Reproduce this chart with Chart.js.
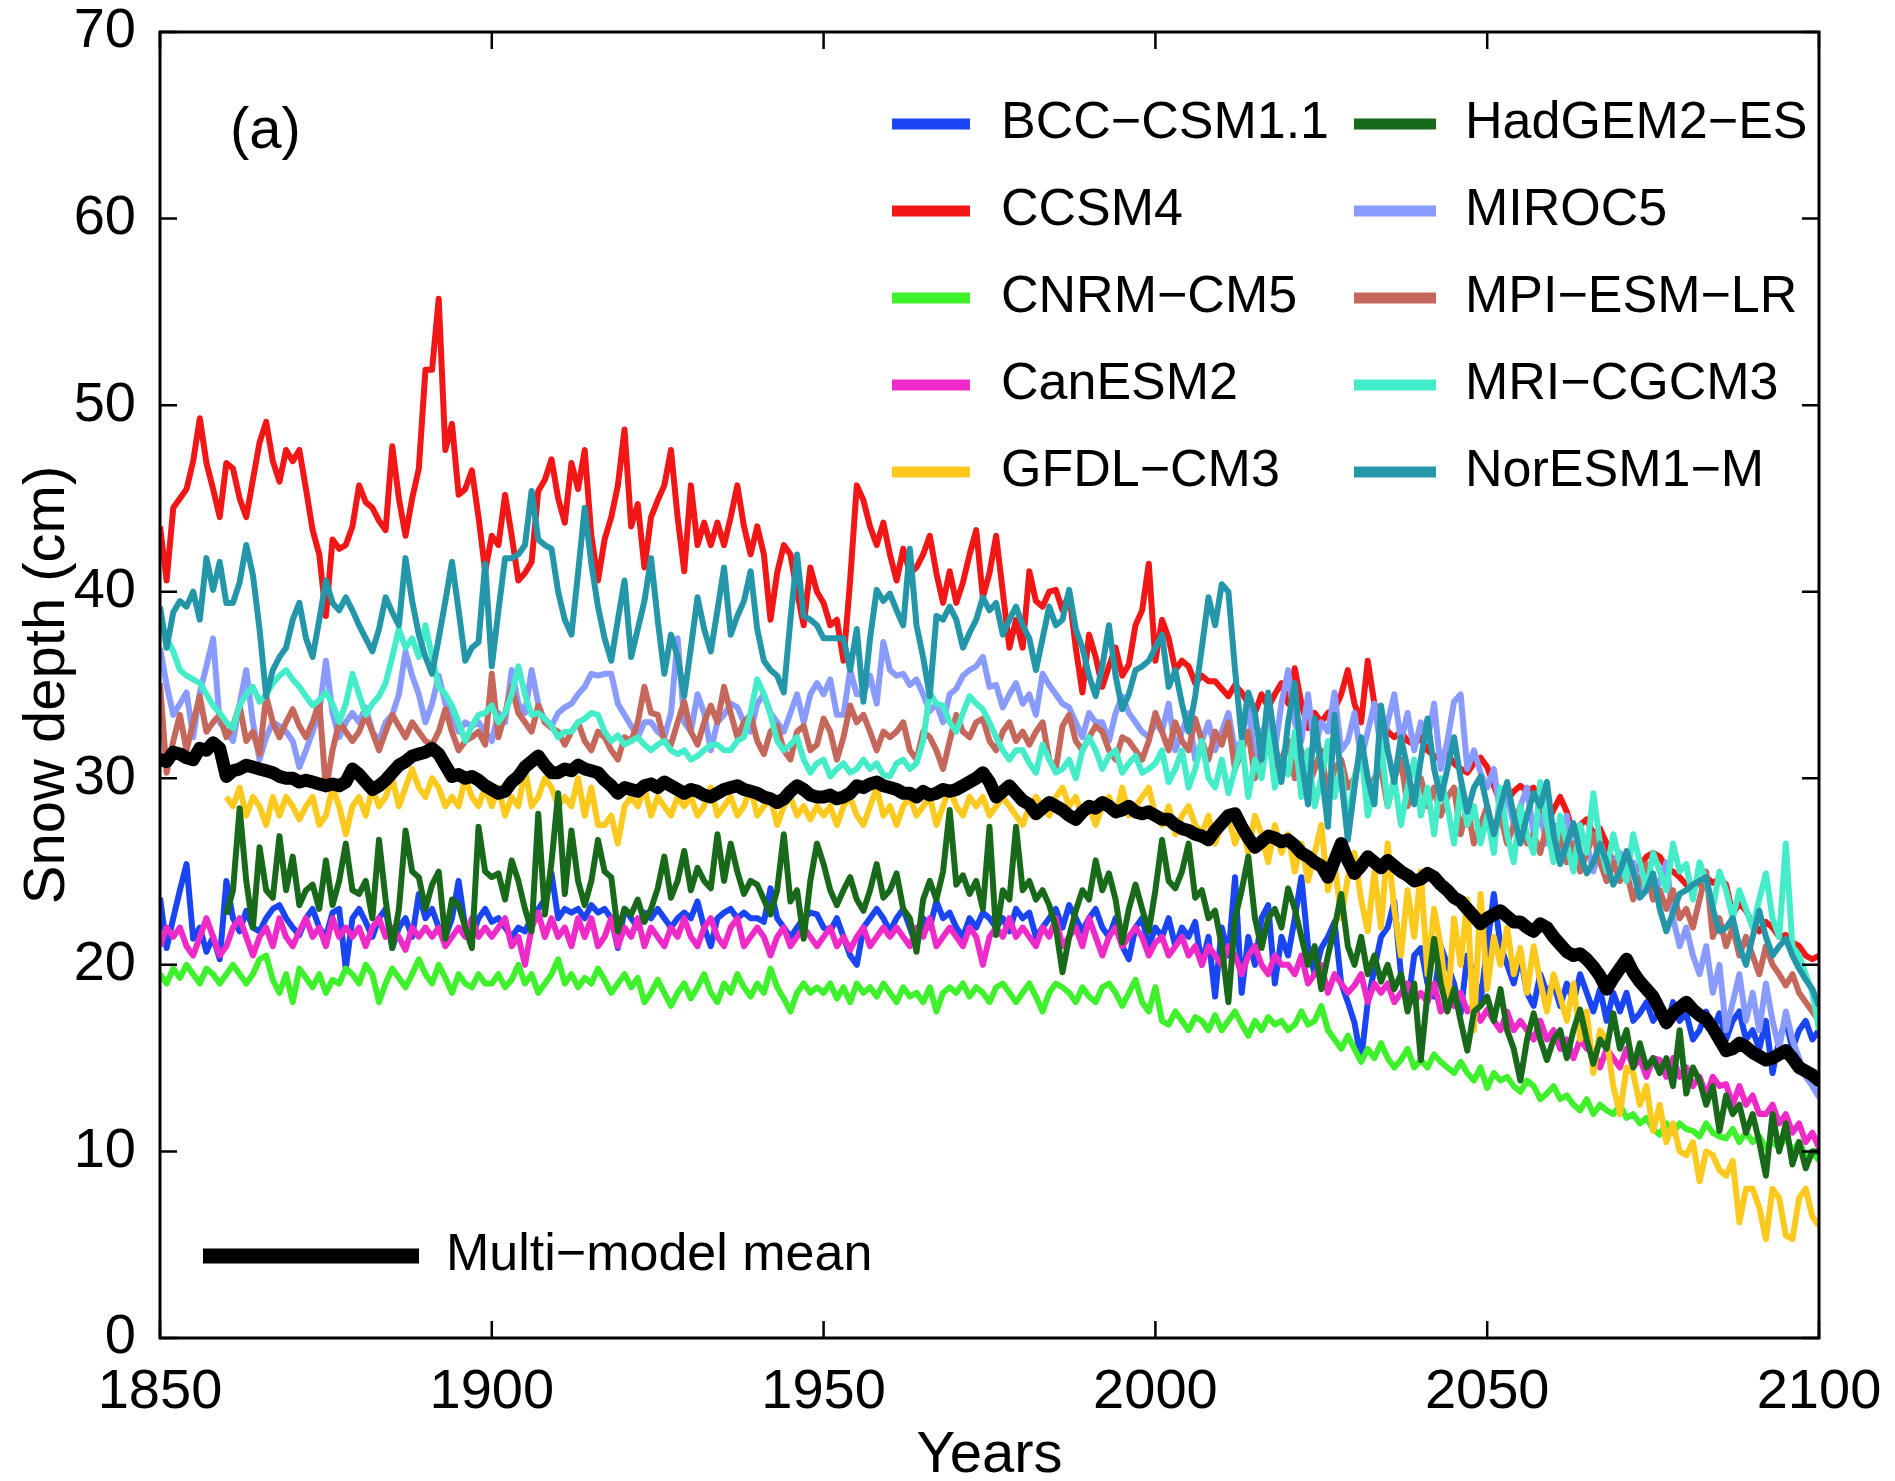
<!DOCTYPE html>
<html>
<head>
<meta charset="utf-8">
<title>Snow depth (a)</title>
<script src="https://cdn.jsdelivr.net/npm/chart.js@4.4.1/dist/chart.umd.min.js"></script>
<style>
  html, body { margin: 0; padding: 0; background: #fff; }
  #wrap { width: 1895px; height: 1481px; }
</style>
</head>
<body>
<div id="wrap"><canvas id="snowChart" width="1895" height="1481"></canvas></div>
<script>
// annual values 1850..2100 (cm)
const years = [];
for (let yr = 1850; yr <= 2100; yr++) years.push(yr);

const xTicks = [1850, 1900, 1950, 2000, 2050, 2100];
const yTicks = [0, 10, 20, 30, 40, 50, 60, 70];

const bccCsm11 = [
  23.6, 20.9, 22.5, 24.0, 25.4, 21.4, 22.0, 20.7, 21.5, 20.3,
  24.5, 22.5, 21.8, 22.9, 22.0, 21.8, 22.5, 23.0, 23.2, 22.5,
  22.0, 21.6, 22.5, 23.0, 22.0, 21.5, 22.8, 23.0, 19.8, 22.5,
  23.0, 22.3, 21.5, 22.5, 23.0, 20.9, 22.0, 22.5, 21.5, 23.8,
  22.5, 23.0, 22.0, 21.5, 22.5, 24.5, 22.0, 21.5, 22.5, 23.0,
  22.3, 22.5, 22.0, 21.5, 22.0, 21.8, 22.5, 23.0, 23.5, 24.9,
  22.5, 23.0, 22.8, 23.0, 22.5, 23.2, 22.8, 23.0, 22.5, 20.9,
  23.0, 22.5, 22.0, 22.8, 22.5, 23.0, 22.5, 22.0, 22.5, 22.8,
  22.5, 23.4, 22.0, 21.0, 22.5, 22.8, 23.0, 22.5, 22.8, 22.5,
  22.5, 22.3, 24.1, 22.5, 22.0, 21.5, 22.0, 22.5, 22.8, 22.7,
  22.0, 21.8, 22.5, 21.5, 20.5, 20.0, 22.0, 22.5, 23.0, 22.5,
  21.8, 22.5, 23.0, 22.0, 21.0, 22.5, 22.0, 23.4, 22.5, 22.8,
  22.0, 21.5, 22.5, 22.0, 22.8, 22.5, 22.0, 22.5, 21.8, 23.0,
  22.5, 22.8, 21.5, 22.0, 22.5, 23.0, 22.0, 23.2, 22.5, 21.8,
  22.5, 23.0, 22.0, 21.5, 22.5, 21.0, 20.3, 22.0, 22.5, 21.0,
  22.0, 21.5, 22.5, 21.0, 22.0, 21.5, 22.3, 20.0, 21.5, 18.3,
  22.0, 20.5, 24.7, 18.5, 21.5, 20.0, 22.5, 23.2, 19.0, 21.5,
  20.5, 22.5, 24.7, 21.0, 19.5, 20.9, 21.5, 22.3, 19.0, 18.0,
  16.9, 14.9, 18.0, 19.8, 21.5, 22.0, 23.4, 19.5, 17.8, 20.5,
  20.9, 19.0, 18.3, 21.0, 20.0, 19.0, 17.4, 20.5, 19.5, 18.0,
  21.0, 23.8, 21.0, 20.0, 19.0, 20.5, 18.5, 17.8, 19.5, 18.5,
  19.0, 17.8, 19.0, 18.0, 19.5, 18.5, 17.5, 18.7, 17.0, 18.5,
  17.5, 18.5, 17.0, 17.4, 18.0, 17.0, 17.5, 16.7, 18.0, 17.0,
  17.4, 16.0, 16.5, 17.5, 16.5, 17.4, 16.0, 17.0, 17.5, 16.0,
  16.5, 15.5, 17.0, 14.2, 16.0, 17.0, 15.5, 16.5, 17.0, 16.0,
  16.5
];

const ccsm4 = [
  43.5, 40.6, 44.5, 45.0, 45.5, 47.0, 49.3, 46.9, 45.5, 44.0,
  46.9, 46.6, 45.0, 44.0, 46.0, 48.0, 49.1, 47.0, 45.9, 47.6,
  47.0, 47.6, 45.5, 43.3, 42.0, 38.7, 42.8, 42.3, 42.5, 43.5,
  45.7, 44.8, 44.5, 43.8, 43.3, 47.8, 45.0, 43.0, 45.0, 46.6,
  51.9, 51.9, 55.7, 47.6, 49.0, 45.2, 45.5, 46.5, 44.0, 41.1,
  43.0, 42.5, 45.2, 43.0, 40.6, 41.0, 41.6, 45.4, 46.0, 47.1,
  45.0, 43.7, 46.9, 45.5, 47.6, 43.0, 40.6, 42.8, 44.0, 45.7,
  48.7, 43.5, 44.7, 41.3, 44.0, 44.9, 45.7, 47.6, 44.0, 41.1,
  45.7, 42.5, 43.7, 42.5, 43.7, 42.5, 44.0, 45.7, 43.5, 42.0,
  43.5, 42.0, 38.5, 41.0, 42.5, 42.0, 40.0, 38.2, 41.3, 40.0,
  39.4, 38.2, 38.5, 36.3, 40.6, 45.7, 44.9, 43.5, 42.5, 43.7,
  42.0, 40.6, 42.3, 41.0, 41.3, 42.0, 43.0, 41.0, 39.4, 41.1,
  39.4, 40.5, 42.0, 43.3, 39.7, 41.0, 43.0, 40.0, 37.0, 38.5,
  37.0, 41.1, 39.5, 39.2, 40.0, 40.1, 39.0, 39.9, 37.0, 34.6,
  37.7, 36.5, 34.9, 36.0, 37.0, 35.5, 36.1, 38.2, 39.0, 41.5,
  36.3, 38.5, 37.5, 35.8, 36.3, 36.0, 35.1, 35.5, 35.2, 35.2,
  34.8, 34.4, 35.0, 34.6, 34.0, 33.5, 34.5, 33.8, 34.5, 35.1,
  34.0, 35.9, 34.0, 32.7, 33.5, 33.0, 33.5, 33.7, 34.5, 35.8,
  34.0, 33.0, 36.3, 34.0, 33.4, 32.5, 32.2, 32.5, 32.0, 31.8,
  32.2, 31.5, 31.2, 31.0, 31.3, 30.8, 30.5, 30.3, 30.8, 31.1,
  30.6, 29.6, 28.7, 28.8, 29.3, 29.6, 29.3, 29.5, 28.5, 27.6,
  28.3, 29.0, 28.2, 27.0, 27.5, 27.8, 27.0, 27.3, 26.5, 25.4,
  25.8, 25.5, 24.9, 25.3, 25.8, 26.0, 25.8, 25.2, 25.0, 24.7,
  24.3, 24.0, 24.5, 24.7, 24.4, 24.6, 24.3, 22.7, 23.3, 22.9,
  22.2, 21.8, 22.3, 22.0, 21.5, 21.6, 21.2, 21.0, 20.5, 20.3,
  20.5
];

const cnrmCm5 = [
  19.5, 19.0, 19.8, 19.3, 20.0, 19.5, 19.0, 19.8, 19.5, 19.0,
  19.5, 20.0, 19.5, 19.0, 19.5, 20.3, 20.5, 19.2, 18.5, 19.5,
  18.0, 19.8, 19.3, 18.8, 19.5, 18.5, 19.2, 19.0, 19.8, 19.5,
  19.0, 20.0, 19.5, 18.0, 19.0, 19.8, 19.3, 18.8, 19.5, 20.3,
  19.5, 19.0, 20.0, 19.3, 18.5, 19.5, 19.0, 18.8, 19.5, 19.0,
  19.0, 19.5, 18.8, 19.2, 20.0, 19.0, 19.5, 18.5, 19.0, 19.5,
  20.3, 19.0, 19.5, 18.8, 19.3, 19.0, 19.8, 19.2, 18.5, 19.0,
  19.5, 18.8, 19.3, 18.0, 18.5, 19.2, 18.5, 17.8, 18.5, 19.0,
  18.2, 18.8, 19.5, 18.5, 18.0, 19.0, 18.5, 19.5, 18.8, 18.3,
  19.0, 18.5, 19.8, 18.8, 18.2, 17.5, 18.5, 19.0, 18.5, 18.8,
  18.5, 19.0, 18.2, 18.8, 18.0, 19.0, 18.5, 18.8, 18.3, 19.0,
  18.5, 18.0, 18.8, 18.3, 18.5, 18.0, 18.8, 17.5, 18.5, 18.8,
  18.5, 19.0, 18.3, 18.8, 18.5, 18.0, 18.8, 19.0, 18.5, 18.0,
  18.5, 19.0, 18.3, 17.5, 18.5, 19.0, 18.8, 18.5, 18.0, 18.8,
  18.3, 18.0, 18.8, 19.0, 18.5, 17.8, 18.5, 19.2, 18.0, 17.5,
  18.8, 17.0, 16.8, 17.5, 17.0, 16.5, 17.2, 17.0, 16.5, 17.3,
  16.5, 17.0, 17.5, 16.8, 16.2, 17.0, 16.5, 17.2, 16.8, 17.0,
  16.5, 16.8, 17.5, 16.8, 17.0, 17.8, 16.5, 16.0, 15.5, 16.2,
  15.5, 14.8, 15.5, 15.0, 15.8, 15.0, 14.5, 14.9, 15.5, 14.5,
  14.9, 14.5, 15.2, 14.8, 14.5, 14.2, 14.8, 14.2, 13.8, 14.5,
  13.4, 14.2, 13.8, 14.0, 13.5, 13.2, 13.8, 13.5, 12.8, 13.1,
  13.5, 12.8, 13.0, 12.5, 12.2, 12.8, 12.0, 12.5, 12.2, 12.0,
  12.5, 11.8, 12.0, 11.5, 11.8, 11.2, 10.9, 11.5, 11.0, 11.5,
  11.2, 11.1, 10.8, 11.5, 11.0, 10.8, 10.7, 11.2, 10.5, 11.0,
  10.5, 10.8, 10.2, 10.5, 10.2, 10.8, 10.0, 10.5, 9.8, 10.0,
  9.5
];

const canEsm2 = [
  21.0, 22.0, 21.5, 22.0, 21.0, 20.5, 21.5, 22.5, 21.5, 20.5,
  21.0, 22.0, 22.5, 21.5, 20.5, 21.5, 22.0, 21.0, 22.5, 21.5,
  21.0, 21.8, 22.5, 21.5, 22.0, 21.0, 22.5, 21.5, 22.0, 21.5,
  22.0, 21.0, 22.0, 22.5, 21.5, 22.0, 21.5, 20.8, 22.0, 21.5,
  22.0, 21.5, 22.0, 21.0, 21.5, 22.0, 21.5, 22.5, 21.5, 22.0,
  21.5, 22.0, 22.5, 21.0, 21.5, 20.0, 22.0, 22.8, 21.5, 22.5,
  21.5, 22.0, 21.0, 22.5, 21.5, 22.5, 21.0, 21.5, 22.5, 21.0,
  22.0, 21.5, 22.5, 21.0, 22.0, 21.5, 21.0, 22.0, 21.5, 22.5,
  21.5, 21.0, 22.0, 22.5, 21.5, 21.0, 22.0, 22.5, 21.0, 21.5,
  22.0, 21.5, 20.5, 21.5, 22.0, 21.0, 21.5, 22.0, 21.5, 21.0,
  21.5, 22.0, 21.0, 21.5, 20.8, 21.5, 22.0, 21.0, 21.5, 22.0,
  21.5, 22.0, 21.5, 21.0, 22.0, 21.5, 22.5, 21.0, 21.5, 22.0,
  21.5, 21.0, 22.0, 21.5, 20.0, 21.5, 22.0, 21.5, 22.5, 21.5,
  22.0, 21.5, 21.0, 22.0, 21.5, 22.5, 21.0, 21.5, 22.0, 21.0,
  22.5, 21.5, 20.5, 21.5, 22.0, 21.0, 21.5, 22.0, 21.5, 20.5,
  21.2, 21.5, 20.5, 21.0, 21.5, 20.5, 21.0, 20.0, 21.0, 20.5,
  20.0, 21.0, 20.5, 19.5, 20.5, 21.0, 20.0, 19.5, 20.5, 20.0,
  20.0, 19.5, 20.5, 19.0, 19.5, 20.0, 18.5, 19.5, 19.0, 18.5,
  18.9, 19.5, 18.0, 19.0, 18.5, 19.0, 18.0, 18.5, 19.0, 18.0,
  18.5, 18.0, 19.0, 17.5, 18.0, 17.8, 18.5, 17.5, 17.8, 17.0,
  17.6, 17.0, 16.5, 17.5, 16.5, 17.0, 16.5, 16.0, 17.0, 16.0,
  16.5, 15.5, 16.0, 15.0, 16.0, 15.5, 15.4, 14.5, 15.5, 15.0,
  14.5, 15.5, 14.5, 15.0, 14.0, 15.0, 14.9, 14.0, 15.0, 14.0,
  14.5, 13.5, 14.0, 13.0, 14.0, 13.5, 13.6, 12.5, 13.5, 12.5,
  13.0, 12.0, 12.0, 12.5, 11.5, 12.0, 11.0, 11.5, 10.5, 11.0,
  10.2
];

const gfdlCm3 = [
  null, null, null, null, null, null, null, null, null, null,
  29.0, 28.5, 29.5, 28.0, 29.0, 28.5, 27.5, 29.0, 28.0, 29.0,
  28.5, 27.8, 28.5, 29.0, 27.5, 28.0, 29.5, 28.5, 27.0, 28.5,
  29.0, 28.0, 29.5, 28.5, 29.0, 30.0, 28.5, 29.5, 30.5, 29.5,
  29.0, 30.0, 29.5, 28.5, 29.0, 28.5, 30.0, 29.0, 28.5, 29.5,
  28.5, 29.5, 28.0, 29.0, 28.5, 30.5, 28.5, 29.0, 30.0, 29.5,
  28.5, 29.0, 28.5, 30.0, 28.0, 29.5, 27.5, 27.5, 28.0, 26.5,
  28.5, 29.0, 28.5, 29.5, 28.0, 29.0, 28.5, 28.0, 29.0, 28.5,
  29.0, 28.0, 28.5, 29.5, 28.0, 28.5, 29.0, 28.0, 28.5, 29.5,
  28.0, 28.5, 29.0, 27.5, 28.5, 29.0, 28.0, 28.5, 27.8, 28.5,
  28.0, 28.5, 27.5, 28.5, 29.0, 28.0, 27.5, 28.5, 29.5, 28.0,
  28.5, 27.5, 28.5, 29.0, 28.0, 28.5, 29.0, 27.5, 28.5, 29.5,
  28.5, 28.0, 29.0, 28.5, 29.0, 28.0, 28.5, 29.0, 28.5, 28.0,
  27.5, 28.5, 29.0, 28.5, 28.0, 29.0, 29.5, 28.5, 29.0, 28.0,
  28.5, 27.5, 28.5, 29.0, 28.0, 29.5, 28.0, 28.5, 29.0, 29.5,
  28.0, 27.5, 28.5, 27.0, 28.0, 28.5, 27.5, 27.0, 28.0, 26.5,
  27.5, 28.0, 26.5, 27.5, 26.0, 28.0, 27.0, 25.5, 27.5, 26.0,
  27.0, 25.0, 26.5, 24.5, 26.0, 27.5, 24.0, 25.5, 22.5, 24.7,
  26.0, 23.5, 21.8, 25.0, 22.0, 26.5, 23.0, 20.5, 24.0, 21.5,
  25.0, 19.5, 23.0, 21.0, 17.5, 22.5, 20.0, 23.5, 16.5, 23.8,
  18.7, 21.5, 20.0, 22.0, 19.5, 20.9, 18.5, 21.0, 19.1, 17.5,
  19.5, 18.3, 17.0, 19.0, 16.0, 17.5, 14.2, 16.5, 16.0, 13.5,
  12.0, 14.5, 14.2, 12.5, 13.5, 11.1, 12.5, 10.5, 11.5, 10.0,
  9.8, 10.5, 8.4, 10.0, 9.8, 9.0, 8.7, 9.5, 6.2, 8.0,
  8.0, 7.0, 5.3, 8.0, 7.5, 5.5, 5.3, 7.5, 8.0, 6.5,
  6.0
];

const hadGem2Es = [
  null, null, null, null, null, null, null, null, null, null,
  22.7, 24.0, 28.4, 24.5, 22.0, 26.3, 24.0, 23.6, 26.9, 24.0,
  25.8, 23.2, 24.0, 24.3, 23.0, 25.6, 23.2, 24.5, 26.5, 24.0,
  23.8, 24.5, 22.5, 26.7, 23.5, 20.9, 23.0, 27.2, 25.0, 24.7,
  23.0, 24.3, 25.0, 21.4, 23.5, 23.2, 22.0, 20.9, 27.4, 25.0,
  24.7, 24.9, 23.5, 25.6, 24.5, 23.0, 21.8, 28.1, 22.7, 25.5,
  29.2, 23.8, 27.2, 24.5, 23.2, 24.5, 26.7, 25.0, 24.7, 21.8,
  23.0, 22.7, 23.5, 22.3, 23.0, 24.1, 25.8, 23.6, 24.5, 26.1,
  24.0, 25.2, 24.5, 24.1, 27.0, 24.5, 26.5, 25.0, 23.8, 24.5,
  24.3, 23.5, 22.7, 24.0, 27.0, 23.4, 24.0, 21.4, 24.5, 26.5,
  25.4, 24.0, 23.2, 24.0, 24.7, 23.5, 22.9, 24.0, 25.4, 23.6,
  24.0, 24.9, 23.0, 22.5, 20.7, 23.5, 24.5, 23.5, 25.0, 28.3,
  24.3, 24.8, 23.8, 24.5, 23.0, 27.4, 21.6, 24.0, 23.5, 27.4,
  24.0, 24.5, 23.5, 24.0, 23.2, 22.0, 19.6, 21.5, 22.9, 24.0,
  23.5, 25.6, 24.0, 24.9, 23.5, 21.2, 23.0, 24.3, 23.0, 21.8,
  24.0, 26.7, 24.5, 24.1, 25.0, 26.5, 23.6, 24.0, 22.5, 22.9,
  21.0, 18.0, 22.5, 24.0, 25.8, 22.5, 20.9, 22.5, 23.0, 22.0,
  24.1, 23.0, 21.5, 20.0, 21.0, 18.7, 20.5, 22.0, 23.8, 21.0,
  20.0, 21.5, 19.5, 20.5, 19.1, 20.0, 18.7, 19.5, 17.5, 19.0,
  14.9, 18.5, 21.4, 19.0, 17.5, 18.7, 17.0, 15.4, 17.5, 17.8,
  18.3, 17.0, 18.7, 16.5, 15.5, 13.8, 16.0, 17.4, 16.0, 14.9,
  16.0, 16.5, 15.0, 16.5, 17.6, 16.0, 14.7, 16.0, 15.5, 17.4,
  15.5, 16.5, 14.5, 15.8, 14.5, 15.0, 14.2, 15.0, 13.5, 16.5,
  13.1, 14.5, 13.8, 12.5, 13.5, 11.1, 13.0, 12.0, 12.5, 11.0,
  12.0, 10.5, 8.7, 12.0, 10.0, 11.5, 9.3, 10.5, 9.1, 10.0,
  10.0
];

const miroc5 = [
  37.0, 35.0, 33.4, 34.0, 34.6, 32.2, 34.6, 36.0, 37.5, 33.0,
  32.5, 32.0, 34.0, 35.8, 33.0, 31.0, 32.2, 33.0, 32.8, 32.5,
  32.0, 30.6, 31.5, 32.5, 33.5, 36.3, 33.5, 32.2, 33.0, 33.5,
  33.0, 33.8, 32.5, 32.0, 33.0, 33.4, 34.5, 36.8, 35.5, 34.5,
  33.0, 34.0, 35.5, 34.0, 33.5, 32.5, 33.0, 32.8, 33.0, 32.5,
  32.0, 33.5, 33.0, 35.8, 34.0, 33.5, 35.8, 34.0, 33.0, 32.8,
  33.5, 33.8, 34.0, 34.5, 34.9, 35.6, 35.5, 35.6, 35.6, 34.0,
  33.4, 32.8, 32.2, 33.0, 33.0, 32.5, 32.2, 33.5, 37.5, 33.0,
  32.5, 34.5, 33.5, 31.5, 33.0, 33.4, 34.0, 33.8, 33.0, 32.5,
  34.0, 34.5, 33.5, 33.0, 32.5, 33.5, 34.5, 33.0, 34.5, 35.1,
  34.5, 35.3, 33.4, 33.4, 35.8, 34.5, 34.5, 35.5, 34.0, 37.3,
  35.8, 35.5, 35.6, 35.0, 35.3, 34.5, 33.6, 34.0, 33.0, 34.5,
  34.8, 35.5, 35.8, 36.0, 36.5, 34.9, 35.0, 33.8, 34.5, 35.1,
  34.0, 34.5, 33.4, 35.6, 35.0, 34.5, 34.0, 33.8, 33.0, 32.2,
  33.5, 33.0, 33.0, 32.0, 33.5, 34.4, 33.5, 33.0, 32.5, 32.2,
  33.0, 32.5, 34.0, 31.5, 32.5, 33.5, 31.0, 32.0, 33.0, 31.5,
  32.5, 33.5, 31.5, 32.0, 34.0, 31.0, 32.5, 33.0, 31.5, 34.0,
  35.8, 33.0, 32.0, 34.5, 31.5, 33.0, 32.5, 34.6, 31.5, 32.0,
  33.5, 31.0, 32.5, 34.0, 31.5, 33.0, 34.5, 32.0, 33.5, 31.5,
  33.0, 32.0, 34.0, 30.5, 32.0, 34.1, 34.5, 30.5, 31.5, 30.3,
  29.5, 30.5, 28.0, 29.0, 27.5, 28.5, 29.5, 27.0, 28.0, 26.5,
  27.5, 26.0, 28.0, 25.5, 27.0, 26.5, 25.0, 26.5, 24.5, 25.5,
  26.0, 24.5, 25.5, 24.0, 25.0, 23.5, 24.5, 25.5, 22.5, 21.0,
  22.0, 20.5, 19.5, 21.0, 18.5, 20.0, 16.5, 18.0, 19.5, 17.0,
  18.5, 16.5, 19.0, 17.0, 15.5, 17.5, 16.0, 15.0, 14.0, 13.5,
  12.9
];

const mpiEsmLr = [
  35.1, 30.3, 32.0, 33.4, 31.5, 33.0, 34.4, 32.5, 33.0, 33.4,
  32.2, 32.8, 33.9, 32.0, 32.5, 31.3, 34.4, 33.0, 32.2, 33.0,
  33.7, 32.8, 32.2, 33.0, 34.1, 29.4, 31.5, 33.0, 32.5, 32.0,
  32.5, 33.4, 32.5, 31.5, 32.5, 33.4, 32.8, 32.2, 33.0, 32.5,
  32.0, 31.8, 32.5, 33.7, 32.5, 31.5, 32.0, 32.2, 32.5, 31.8,
  35.6, 32.2, 33.5, 34.9, 33.5, 33.0, 32.5, 33.9, 33.0, 32.7,
  32.5, 31.8, 32.5, 33.0, 32.0, 31.5, 32.5, 32.2, 31.5, 31.0,
  32.2, 32.0, 33.0, 34.9, 33.5, 33.4, 32.0, 31.8, 33.0, 34.1,
  32.5, 31.8, 33.0, 33.9, 33.0, 34.9, 33.5, 32.2, 33.0, 33.4,
  32.0, 31.3, 32.5, 32.8, 31.5, 31.0, 32.5, 32.8, 31.5, 31.8,
  33.2, 32.5, 31.0, 32.2, 33.9, 33.0, 33.4, 32.5, 31.5, 32.5,
  32.2, 32.5, 33.0, 31.5, 31.0, 32.5, 32.2, 31.5, 30.5, 32.0,
  33.4, 32.5, 32.2, 33.0, 33.2, 32.0, 31.5, 32.5, 33.0, 32.0,
  32.5, 31.8, 32.5, 33.0, 31.0, 30.5, 32.8, 33.4, 32.0, 31.5,
  32.2, 32.8, 32.5, 31.5, 31.0, 32.2, 32.0, 31.5, 31.0, 32.0,
  33.5, 32.5, 31.5, 33.0, 32.0, 31.5, 33.2, 32.0, 31.0, 32.5,
  31.8, 33.0, 30.5, 31.5, 32.5, 30.0, 31.5, 32.0, 30.5, 31.0,
  32.0, 30.0, 31.5, 29.5, 30.5, 31.5, 29.0, 30.5, 31.0, 29.5,
  30.0, 31.5, 29.0, 30.0, 30.5, 28.5, 30.0, 31.0, 28.5, 29.5,
  30.0, 28.5, 29.5, 28.0, 29.0, 29.5, 27.0, 28.5, 26.5, 27.5,
  28.5, 27.0, 28.0, 26.5, 27.5, 28.5, 26.5, 27.0, 26.0, 27.5,
  26.0, 27.0, 25.5, 26.5, 25.0, 26.0, 27.0, 25.5, 24.5, 25.5,
  24.5, 25.0, 23.5, 24.5, 25.4, 23.5, 24.0, 23.0, 24.0, 22.5,
  23.0, 22.0, 23.5, 25.0, 21.5, 22.5, 21.0, 22.0, 20.5, 21.5,
  20.5, 19.5, 21.0, 20.0, 19.5, 18.9, 19.5, 18.5, 18.0, 17.5,
  17.0
];

const mriCgcm3 = [
  38.2, 37.5, 36.8, 35.8, 35.5, 35.3, 35.1, 34.5, 33.9, 33.5,
  33.0, 32.7, 33.9, 34.5, 34.9, 34.1, 34.5, 35.1, 35.5, 35.8,
  35.3, 34.9, 34.4, 33.9, 34.2, 34.6, 34.0, 33.0, 34.0, 35.6,
  34.5, 33.4, 34.0, 34.4, 35.1, 36.5, 38.0, 37.0, 37.5, 36.5,
  38.2, 36.5, 34.9, 34.5, 33.9, 33.0, 32.0, 32.8, 33.4, 33.5,
  33.9, 33.0, 33.5, 34.5, 36.0, 34.5, 33.4, 33.5, 33.2, 32.8,
  32.2, 32.5, 32.5, 33.0, 33.2, 33.5, 33.4, 32.5, 32.0, 32.3,
  31.8, 32.0, 32.2, 31.8, 31.5, 31.8, 32.0, 31.5, 31.3, 31.5,
  31.0, 31.2, 31.5, 31.8, 31.8, 31.5, 31.5, 32.0, 32.2, 33.5,
  35.3, 34.5, 33.4, 32.0, 31.5, 31.8, 32.2, 31.0, 30.3, 30.8,
  31.0, 30.1, 30.5, 30.8, 30.3, 30.5, 31.0, 30.5, 30.8, 30.2,
  30.1, 30.8, 31.0, 30.5, 30.8, 32.0, 34.6, 34.0, 33.9, 33.0,
  32.5, 33.5, 34.4, 34.0, 33.7, 33.0, 32.2, 31.5, 31.0, 31.5,
  31.5, 30.8, 30.3, 31.8, 31.0, 30.3, 30.5, 31.0, 30.0, 31.5,
  32.2, 31.5, 30.5, 31.2, 31.5, 30.3, 30.8, 31.2, 30.3, 30.5,
  30.8, 31.5, 29.8, 30.5, 31.5, 29.5, 30.5, 32.0, 30.0, 29.5,
  31.0, 29.2, 30.5, 32.0, 29.0, 31.0, 30.0, 32.5, 29.5, 31.0,
  30.2, 32.5, 29.0, 31.5, 28.5, 30.0, 32.0, 29.0, 30.5, 27.5,
  30.0, 31.5, 28.0, 29.5, 32.0, 28.5, 30.0, 27.5, 29.5, 31.0,
  28.0, 29.5, 27.0, 30.0, 28.5, 26.5, 29.5, 27.5, 28.5, 26.5,
  28.0, 26.0, 29.5, 27.0, 25.5, 28.5, 27.0, 26.0, 29.8, 27.5,
  25.5, 28.0, 26.5, 25.0, 27.5, 26.0, 29.2, 26.5, 25.0, 27.0,
  25.5, 24.5, 27.0, 25.5, 24.0, 26.0, 25.0, 24.0, 26.5, 25.0,
  25.4, 23.5, 25.5, 24.5, 23.0, 25.0, 24.0, 22.5, 24.0, 23.0,
  22.0, 23.5, 24.9, 22.5, 21.5, 26.5, 21.0, 20.5, 19.5, 18.5,
  16.5
];

const norEsm1M = [
  39.2, 37.0, 38.9, 39.5, 39.2, 40.0, 38.5, 41.8, 40.1, 41.6,
  39.4, 39.4, 40.5, 42.5, 40.9, 38.0, 34.4, 35.8, 36.5, 37.0,
  38.5, 39.4, 37.5, 36.5, 38.5, 40.6, 39.4, 39.0, 39.7, 39.0,
  38.2, 37.5, 36.8, 38.0, 39.7, 38.9, 38.2, 41.8, 39.5, 37.7,
  36.5, 35.6, 37.5, 39.5, 41.6, 39.0, 36.3, 37.0, 37.3, 41.5,
  36.0, 39.0, 41.8, 41.8, 42.0, 42.5, 45.4, 42.8, 42.5, 42.3,
  40.0, 38.5, 37.7, 41.0, 44.5, 41.5, 39.2, 37.5, 36.3, 38.5,
  40.6, 36.5, 38.0, 39.5, 41.8, 38.5, 35.6, 37.7, 36.5, 34.4,
  37.0, 39.7, 38.0, 36.8, 39.0, 41.3, 37.7, 38.7, 39.5, 41.1,
  38.0, 36.3, 35.8, 35.5, 34.6, 38.5, 42.0, 38.7, 38.5, 38.2,
  37.5, 37.5, 37.5, 37.5, 35.8, 38.0, 34.1, 37.5, 40.1, 39.5,
  39.9, 39.0, 38.2, 42.3, 38.2, 36.5, 34.4, 38.7, 38.5, 39.2,
  38.5, 37.0, 37.8, 38.5, 39.7, 39.0, 39.4, 37.7, 38.5, 39.2,
  38.2, 37.5, 35.8, 37.5, 39.2, 38.2, 38.5, 40.1, 38.0, 37.0,
  35.5, 34.4, 36.0, 38.2, 35.5, 33.7, 34.5, 35.8, 36.0, 36.3,
  37.0, 37.7, 34.9, 35.8, 34.0, 32.5, 34.4, 37.0, 39.7, 38.2,
  40.4, 40.0, 35.8, 32.2, 34.6, 33.5, 31.0, 34.6, 32.0, 29.8,
  33.0, 35.1, 31.0, 28.6, 33.2, 30.5, 27.4, 33.4, 30.0, 26.7,
  29.5, 32.2, 30.0, 28.6, 33.9, 31.5, 29.8, 32.2, 30.5, 28.6,
  31.0, 33.2, 30.5, 28.9, 30.5, 32.2, 30.0, 28.2, 29.5, 30.1,
  28.5, 27.0, 28.5, 29.8, 28.0, 26.5, 28.0, 29.2, 28.5, 29.8,
  27.0, 25.4, 26.5, 27.6, 26.0, 24.9, 25.5, 26.5, 25.5, 24.3,
  25.0, 26.1, 25.0, 23.6, 24.0, 24.9, 23.0, 21.8, 22.8, 23.8,
  24.0, 24.3, 24.5, 24.7, 23.0, 21.8, 22.0, 22.5, 21.0, 20.0,
  21.5, 22.9, 21.5, 20.5, 21.0, 21.4, 20.5, 19.8, 19.2, 18.7,
  17.8
];

const multiModelMean = [
  31.0, 30.9, 31.4, 31.3, 31.1, 31.0, 31.6, 31.5, 31.9, 31.6,
  30.1, 30.4, 30.5, 30.7, 30.6, 30.5, 30.4, 30.3, 30.1, 30.0,
  30.0, 29.8, 29.9, 29.8, 29.7, 29.6, 29.7, 29.6, 29.8, 30.5,
  30.2, 29.8, 29.4, 29.6, 29.9, 30.3, 30.7, 30.9, 31.2, 31.3,
  31.4, 31.6, 31.3, 30.7, 30.1, 30.2, 30.0, 30.1, 29.9, 29.6,
  29.4, 29.2, 29.3, 29.8, 30.1, 30.6, 30.9, 31.2, 30.7, 30.3,
  30.3, 30.5, 30.4, 30.7, 30.5, 30.4, 30.3, 29.9, 29.6, 29.2,
  29.5, 29.4, 29.3, 29.6, 29.7, 29.5, 29.8, 29.6, 29.4, 29.2,
  29.4, 29.3, 29.1, 29.0, 29.2, 29.4, 29.5, 29.6, 29.4, 29.3,
  29.2, 29.0, 28.9, 28.7, 28.9, 29.3, 29.6, 29.4, 29.1, 29.0,
  29.0, 29.1, 28.9, 29.0, 29.2, 29.6, 29.5, 29.7, 29.8, 29.6,
  29.5, 29.4, 29.2, 29.2, 29.0, 29.3, 29.1, 29.2, 29.4, 29.3,
  29.4, 29.6, 29.8, 30.0, 30.3, 29.8, 29.0, 29.3, 29.6, 29.2,
  28.8, 28.6, 28.1, 28.4, 28.7, 28.5, 28.3, 28.0, 27.8, 28.2,
  28.5, 28.4, 28.7, 28.5, 28.2, 28.3, 28.5, 28.2, 28.1, 28.2,
  28.0, 27.8, 27.8, 27.5, 27.3, 27.2, 27.0, 26.9, 26.7, 27.2,
  27.6, 28.0, 28.1, 27.4, 26.8, 26.3, 26.6, 26.9, 26.8, 26.6,
  26.7, 26.4, 26.0, 25.8, 25.5, 25.3, 24.7, 25.6, 26.5, 25.6,
  24.9, 25.3, 25.8, 25.5, 25.2, 25.6, 25.3, 25.0, 24.8, 24.5,
  24.6, 24.9, 24.7, 24.3, 24.0, 23.6, 23.4, 23.0, 22.6, 22.2,
  22.5, 22.7, 22.9, 22.6, 22.3, 22.3, 22.0, 21.8, 22.2, 22.0,
  21.5, 21.1, 20.7, 20.5, 20.6, 20.3, 19.9, 19.4, 18.7, 19.3,
  19.8, 20.3, 19.6, 19.1, 18.7, 18.3, 17.6, 16.9, 17.4, 17.7,
  18.0, 17.6, 17.3, 17.1, 16.6, 16.0, 15.4, 15.5, 15.8, 15.6,
  15.3, 15.1, 14.9, 15.0, 15.2, 15.4, 15.0, 14.5, 14.3, 14.1,
  13.8
];

const modelNames = [
  'BCC\u2212CSM1.1', 'CCSM4', 'CNRM\u2212CM5', 'CanESM2', 'GFDL\u2212CM3',
  'HadGEM2\u2212ES', 'MIROC5', 'MPI\u2212ESM\u2212LR', 'MRI\u2212CGCM3', 'NorESM1\u2212M'
];
const modelSeries = [bccCsm11, ccsm4, cnrmCm5, canEsm2, gfdlCm3, hadGem2Es, miroc5, mpiEsmLr, mriCgcm3, norEsm1M];
const modelColors = [
  '#1a45f2', '#f21717', '#3ff02c', '#ee2bc8', '#fcca1e',
  '#19691a', '#8a9bff', '#c5675b', '#45ecc9', '#2496a9'
];
const meanLabel = 'Multi\u2212model mean';

const FONT = '"Liberation Sans", Arial, Helvetica, sans-serif';

function toPoints(values) {
    return values.map((v, i) => ({ x: years[i], y: v }));
}

// models drawn in legend order (later ones on top), mean on top of everything
const datasets = modelSeries.map((s, i) => ({
    label: modelNames[i],
    data: toPoints(s),
    borderColor: modelColors[i],
    borderWidth: 6,
    pointRadius: 0,
    tension: 0,
    spanGaps: false,
    borderJoinStyle: 'round',
    order: modelSeries.length - i
}));
datasets.push({
    label: meanLabel,
    data: toPoints(multiModelMean),
    borderColor: '#000',
    borderWidth: 13,
    pointRadius: 0,
    tension: 0,
    borderJoinStyle: 'round',
    borderCapStyle: 'round',
    order: 0
});

// box, inward ticks on all four sides, panel letter and legend
const frameAndLegend = {
    id: 'frameAndLegend',
    afterDatasetsDraw(chart) {
        const { ctx, chartArea: a, scales: { x, y } } = chart;
        ctx.save();
        ctx.strokeStyle = '#000';
        ctx.lineWidth = 3;
        ctx.strokeRect(a.left, a.top, a.right - a.left, a.bottom - a.top);

        const tl = 17;
        ctx.beginPath();
        xTicks.forEach(v => {
            const px = x.getPixelForValue(v);
            ctx.moveTo(px, a.bottom); ctx.lineTo(px, a.bottom - tl);
            ctx.moveTo(px, a.top); ctx.lineTo(px, a.top + tl);
        });
        yTicks.forEach(v => {
            const py = y.getPixelForValue(v);
            ctx.moveTo(a.left, py); ctx.lineTo(a.left + tl, py);
            ctx.moveTo(a.right, py); ctx.lineTo(a.right - tl, py);
        });
        ctx.lineWidth = 2.5;
        ctx.stroke();

        ctx.fillStyle = '#000';
        ctx.textBaseline = 'middle';
        ctx.textAlign = 'left';
        ctx.font = '58px ' + FONT;
        ctx.fillText('(a)', 230, 132);

        // two-column legend
        ctx.font = '52px ' + FONT;
        const rows = [124, 211, 298, 385, 472];
        const cols = [{ x0: 892, x1: 970, tx: 1001 }, { x0: 1354, x1: 1436, tx: 1465 }];
        ctx.lineWidth = 11;
        ctx.lineCap = 'butt';
        modelNames.forEach((name, i) => {
            const c = cols[Math.floor(i / 5)];
            const ry = rows[i % 5];
            ctx.strokeStyle = modelColors[i];
            ctx.beginPath();
            ctx.moveTo(c.x0, ry); ctx.lineTo(c.x1, ry);
            ctx.stroke();
            ctx.fillText(name, c.tx, ry);
        });

        ctx.strokeStyle = '#000';
        ctx.lineWidth = 15;
        ctx.beginPath();
        ctx.moveTo(203, 1256); ctx.lineTo(419, 1256);
        ctx.stroke();
        ctx.fillText(meanLabel, 446, 1256);
        ctx.restore();
    }
};

const ctx = document.getElementById('snowChart').getContext('2d');
const snowChart = new Chart(ctx, {
    type: 'line',
    data: { datasets: datasets },
    options: {
        responsive: false,
        animation: false,
        devicePixelRatio: 1,
        layout: { padding: { left: 0, right: 76, top: 32, bottom: 0 } },
        plugins: {
            legend: { display: false },
            tooltip: { enabled: false }
        },
        scales: {
            x: {
                type: 'linear',
                min: 1850,
                max: 2100,
                grid: { display: false, drawTicks: false },
                border: { display: false },
                afterBuildTicks(scale) { scale.ticks = xTicks.map(v => ({ value: v })); },
                afterFit(scale) {
                    scale.height = 143;
                    scale.paddingLeft = 0;
                    scale.paddingRight = 0;
                },
                ticks: {
                    padding: 27,
                    color: '#000',
                    maxRotation: 0,
                    autoSkip: false,
                    font: { family: FONT, size: 56, lineHeight: 1 },
                    callback: v => String(v)
                },
                title: {
                    display: true,
                    text: 'Years',
                    color: '#000',
                    padding: 0,
                    font: { family: FONT, size: 58, lineHeight: 0.85 }
                }
            },
            y: {
                min: 0,
                max: 70,
                grid: { display: false, drawTicks: false },
                border: { display: false },
                afterBuildTicks(scale) { scale.ticks = yTicks.map(v => ({ value: v })); },
                afterFit(scale) {
                    scale.width = 160;
                    scale.paddingTop = 0;
                    scale.paddingBottom = 0;
                },
                ticks: {
                    padding: 24,
                    color: '#000',
                    font: { family: FONT, size: 56, lineHeight: 1 },
                    callback: v => String(v)
                },
                title: {
                    display: true,
                    text: 'Snow depth (cm)',
                    color: '#000',
                    padding: { top: 19, bottom: 0 },
                    font: { family: FONT, size: 58, lineHeight: 1 }
                }
            }
        }
    },
    plugins: [frameAndLegend]
});
</script>
</body>
</html>
